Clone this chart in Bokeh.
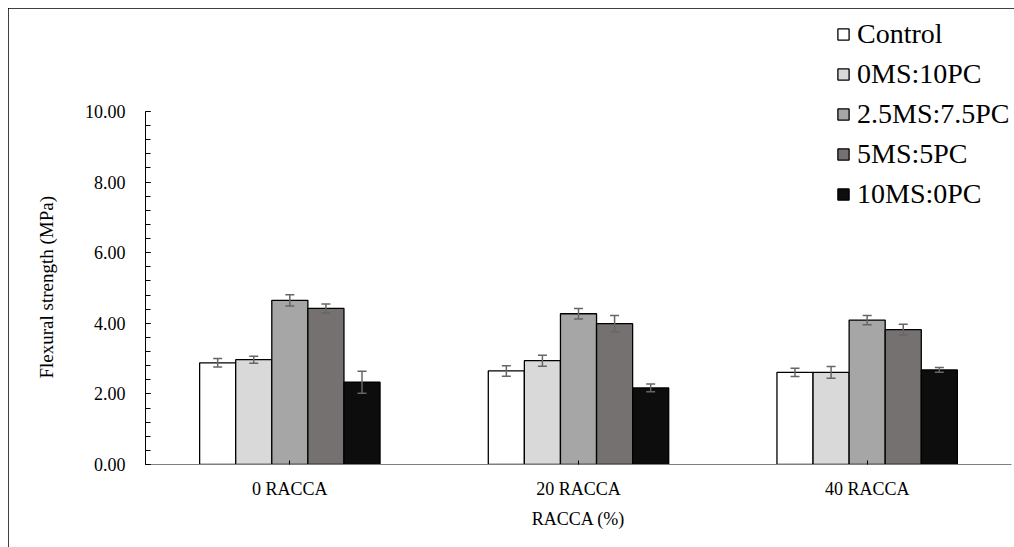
from bokeh.plotting import figure
from bokeh.models import (FactorRange, Range1d, ColumnDataSource, SingleIntervalTicker,
                          PrintfTickFormatter, Legend, LegendItem, Title)
from bokeh.transform import dodge
from bokeh.embed import file_html
from bokeh.resources import INLINE

groups = ["0 RACCA", "20 RACCA", "40 RACCA"]
series = ["Control", "0MS:10PC", "2.5MS:7.5PC", "5MS:5PC", "10MS:0PC"]
colors = ["#ffffff", "#d9d9d9", "#a6a6a6", "#767171", "#0d0d0d"]

control = [2.88, 2.65, 2.61]
ms0_pc10 = [2.97, 2.94, 2.61]
ms25_pc75 = [4.65, 4.27, 4.09]
ms5_pc5 = [4.42, 3.99, 3.82]
ms10_pc0 = [2.33, 2.17, 2.68]

control_err = [0.12, 0.15, 0.12]
ms0_pc10_err = [0.10, 0.155, 0.165]
ms25_pc75_err = [0.16, 0.15, 0.13]
ms5_pc5_err = [0.13, 0.23, 0.15]
ms10_pc0_err = [0.31, 0.11, 0.065]

values = [control, ms0_pc10, ms25_pc75, ms5_pc5, ms10_pc0]
errors = [control_err, ms0_pc10_err, ms25_pc75_err, ms5_pc5_err, ms10_pc0_err]

FONT = "'Liberation Serif', 'Times New Roman', serif"

p = figure(width=1006, height=541, x_range=FactorRange(*groups, range_padding=0),
           y_range=Range1d(0, 12.776), output_backend="svg", toolbar_location=None,
           min_border_left=137, min_border_right=3, min_border_top=5, min_border_bottom=85)
p.x_range.range_padding = 0
p.outline_line_color = None
p.xgrid.grid_line_color = None
p.ygrid.grid_line_color = None
p.styles = {"margin-left": "8px", "margin-top": "8px",
            "outline": "1px solid #000000", "outline-offset": "-1px"}

offsets = [-0.25, -0.125, 0.0, 0.125, 0.25]
bw = 0.125
items = []
for name, vals, errs, col, off in zip(series, values, errors, colors, offsets):
    lo = [v - e for v, e in zip(vals, errs)]
    hi = [v + e for v, e in zip(vals, errs)]
    src = ColumnDataSource(dict(x=groups, top=vals, lo=lo, hi=hi))
    r = p.vbar(x=dodge("x", off, range=p.x_range), top="top", width=bw, bottom=0,
               source=src, fill_color=col, line_color="#000000", line_width=1.3)
    p.segment(x0=dodge("x", off, range=p.x_range), x1=dodge("x", off, range=p.x_range),
              y0="lo", y1="hi", source=src, line_color="#666666", line_width=1.5)
    p.scatter(x=dodge("x", off, range=p.x_range), y="lo", source=src, marker="dash",
              size=9, line_color="#666666", line_width=1.5)
    p.scatter(x=dodge("x", off, range=p.x_range), y="hi", source=src, marker="dash",
              size=9, line_color="#666666", line_width=1.5)
    items.append(LegendItem(label=name, renderers=[r]))

legend = Legend(items=items, location=(691, 254), padding=0, margin=0,
                border_line_color=None, background_fill_alpha=0,
                glyph_width=14, glyph_height=14, label_standoff=7,
                label_text_font=FONT, label_text_font_size="28px", label_height=30,
                label_text_color="#000000", spacing=8)
p.add_layout(legend)

# y axis
p.yaxis.bounds = (0, 10)
p.yaxis.ticker = SingleIntervalTicker(interval=2, num_minor_ticks=5)
p.yaxis.formatter = PrintfTickFormatter(format="%.2f")
p.yaxis.major_label_text_font = FONT
p.yaxis.major_label_text_font_size = "18px"
p.yaxis.major_label_text_color = "#000000"
p.yaxis.major_label_standoff = 20
p.yaxis.major_tick_in = 5
p.yaxis.major_tick_out = 0
p.yaxis.minor_tick_in = 5
p.yaxis.minor_tick_out = 0
p.yaxis.axis_line_color = "#000000"
p.yaxis.major_tick_line_color = "#000000"
p.yaxis.minor_tick_line_color = "#000000"

ylab = Title(text="Flexural strength (MPa)", align="left", offset=86, standoff=50,
             text_font=FONT, text_font_size="19px", text_font_style="normal",
             text_color="#000000")
p.add_layout(ylab, "left")

# x axis
p.xaxis.axis_label = "RACCA (%)"
p.xaxis.axis_label_text_font = FONT
p.xaxis.axis_label_text_font_style = "normal"
p.xaxis.axis_label_text_font_size = "18px"
p.xaxis.axis_label_text_color = "#000000"
p.xaxis.axis_label_standoff = 7
p.xaxis.major_label_text_font = FONT
p.xaxis.major_label_text_font_size = "18px"
p.xaxis.major_label_text_color = "#000000"
p.xaxis.major_label_standoff = 14
p.xaxis.major_tick_in = 4
p.xaxis.major_tick_out = 0
p.xaxis.axis_line_color = "#7f7f7f"
p.xaxis.major_tick_line_color = "#000000"

open("out.html", "w").write(file_html(p, INLINE))
